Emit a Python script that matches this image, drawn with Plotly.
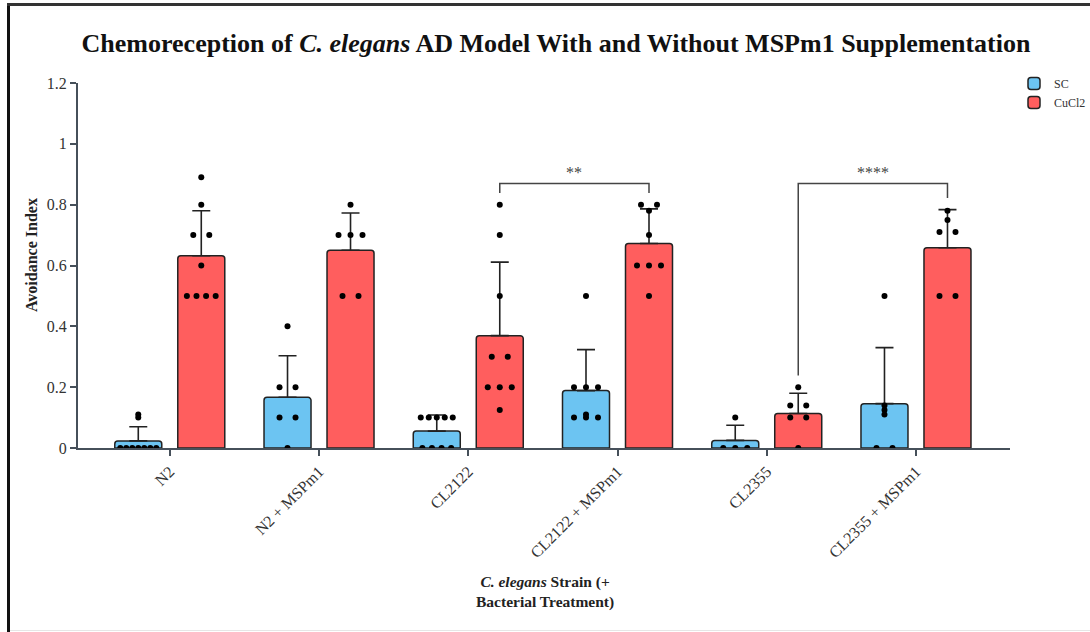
import numpy as np
import plotly.graph_objects as go

# ---------------- data ----------------
categories = ["N2", "N2 + MSPm1", "CL2122", "CL2122 + MSPm1", "CL2355", "CL2355 + MSPm1"]
series_names = ["SC", "CuCl2"]
sc_values = [
    [0, 0, 0, 0, 0, 0, 0, 0.10, 0.11],
    [0.4, 0.2, 0.2, 0.1, 0.1, 0],
    [0.1, 0.1, 0.1, 0.1, 0.1, 0, 0, 0, 0],
    [0.5, 0.2, 0.2, 0.2, 0.11, 0.1, 0.1, 0.1],
    [0.1, 0, 0, 0],
    [0.5, 0.14, 0.125, 0.11, 0, 0],
]
cucl2_values = [
    [0.89, 0.8, 0.7, 0.7, 0.6, 0.5, 0.5, 0.5, 0.5],
    [0.8, 0.7, 0.7, 0.7, 0.5, 0.5],
    [0.8, 0.7, 0.5, 0.3, 0.3, 0.2, 0.2, 0.2, 0.125],
    [0.8, 0.8, 0.78, 0.7, 0.6, 0.6, 0.6, 0.5],
    [0.2, 0.14, 0.14, 0.1, 0.1, 0],
    [0.78, 0.75, 0.71, 0.71, 0.5, 0.5],
]
# significance comparisons between CuCl2 bars (group index a, group index b, label)
comparisons = [(2, 3, "**"), (4, 5, "****")]
y_tick_vals = [0, 0.2, 0.4, 0.6, 0.8, 1.0, 1.2]
y_tick_text = ["0", "0.2", "0.4", "0.6", "0.8", "1", "1.2"]

# ---------------- style ----------------
W, H = 1090, 632
ML, MR, MT, MB = 78, 80, 83, 184
PW, PH = W - ML - MR, H - MT - MB
X_RANGE = [-0.615, 5.63]
PX_PER_CAT = PW / (X_RANGE[1] - X_RANGE[0])
BAR_W = 47 / PX_PER_CAT
BAR_OFF = 31.5 / PX_PER_CAT
COLORS = ["#6CC4F2", "#FF5E5E"]
FONT = "Liberation Serif"
AXIS_COL = "#46505a"
BRACKET_Y = 0.87


def px_x(p):
    return (p - ML) / PW


def px_y(p):
    return (H - MB - p) / PH


def swarm_offsets(vals):
    vals = np.asarray(vals, dtype=float)
    keys = np.round(vals, 3)
    out = np.zeros(len(vals))
    for k in np.unique(keys):
        idx = np.where(keys == k)[0]
        n = len(idx)
        step = 48.0 / (n + 1) / PX_PER_CAT
        out[idx] = (np.arange(n) - (n - 1) / 2) * step
    return out


fig = go.Figure()
all_series = [sc_values, cucl2_values]
tops = {}
for s, (name, vals, col) in enumerate(zip(series_names, all_series, COLORS)):
    off = -BAR_OFF if s == 0 else BAR_OFF
    means = [float(np.mean(v)) for v in vals]
    sds = [float(np.std(v, ddof=1)) for v in vals]
    xs = [i + off for i in range(len(categories))]
    for i, v in enumerate(vals):
        tops[(s, i)] = max(max(v), means[i] + sds[i])
    fig.add_trace(go.Bar(
        x=xs, y=means, width=BAR_W, name=name,
        marker=dict(color=col, line=dict(color="#222222", width=1.5), cornerradius=3),
        error_y=dict(type="data", array=sds, arrayminus=[0] * len(sds), symmetric=False,
                     color="#222222", thickness=1.6, width=9),
    ))

for s, vals in enumerate(all_series):
    off = -BAR_OFF if s == 0 else BAR_OFF
    px, py = [], []
    for i, v in enumerate(vals):
        o = swarm_offsets(v)
        px.extend(list(i + off + o))
        py.extend(v)
    fig.add_trace(go.Scatter(x=px, y=py, mode="markers", showlegend=False, hoverinfo="skip",
                             marker=dict(color="black", size=6, line=dict(width=0))))

# significance brackets
for a, b, lab in comparisons:
    xa, xb = a + BAR_OFF, b + BAR_OFF
    ya, yb = tops[(1, a)] + 0.038, tops[(1, b)] + 0.038
    fig.add_shape(type="path", xref="x", yref="y",
                  path=f"M {xa},{ya} L {xa},{BRACKET_Y} L {xb},{BRACKET_Y} L {xb},{yb}",
                  line=dict(color="#444444", width=1.5))
    fig.add_annotation(x=(xa + xb) / 2, y=BRACKET_Y + 0.035, xref="x", yref="y", text=lab,
                       showarrow=False, font=dict(family=FONT, size=16, color="#444444"))

# frame lines
fig.add_shape(type="line", xref="paper", yref="paper", x0=px_x(8.5), x1=px_x(8.5),
              y0=px_y(3), y1=px_y(640), line=dict(color="#111111", width=3))
fig.add_shape(type="line", xref="paper", yref="paper", x0=px_x(7), x1=px_x(1095),
              y0=px_y(4.5), y1=px_y(4.5), line=dict(color="#333333", width=3))
fig.add_shape(type="line", xref="paper", yref="paper", x0=px_x(10), x1=px_x(1095),
              y0=px_y(630.5), y1=px_y(630.5), line=dict(color="#e6e6e6", width=1))

# axis titles
fig.add_annotation(xref="paper", yref="paper", x=px_x(545), y=px_y(592),
                   text="<b><i>C. elegans</i> Strain (+<br>Bacterial Treatment)</b>",
                   showarrow=False, font=dict(family=FONT, size=15.5, color="#222222"),
                   xanchor="center", yanchor="middle")
fig.add_annotation(xref="paper", yref="paper", x=px_x(32), y=px_y(255),
                   text="<b>Avoidance Index</b>", textangle=-90,
                   showarrow=False, font=dict(family=FONT, size=16, color="#222222"),
                   xanchor="center", yanchor="middle")

fig.update_layout(
    width=W, height=H,
    margin=dict(l=ML, r=MR, t=MT, b=MB, pad=0, autoexpand=False),
    paper_bgcolor="white", plot_bgcolor="white",
    barmode="overlay",
    font=dict(family=FONT, color="#222222"),
    title=dict(text="<b>Chemoreception of <i>C. elegans</i> AD Model With and Without MSPm1 Supplementation</b>",
               x=556 / W, xanchor="center", xref="container",
               y=1 - 43 / H, yanchor="middle", yref="container",
               font=dict(family=FONT, size=26, color="#111111")),
    legend=dict(x=px_x(1014), y=px_y(69), xanchor="left", yanchor="top",
                font=dict(family=FONT, size=12, color="#333333"),
                itemwidth=30, bgcolor="rgba(0,0,0,0)", tracegroupgap=0),
    showlegend=True,
)
fig.update_xaxes(range=X_RANGE, tickmode="array", tickvals=list(range(len(categories))),
                 ticktext=categories, tickangle=-45, ticks="outside", ticklen=6,
                 tickwidth=1.5, tickcolor=AXIS_COL, showline=True, linecolor=AXIS_COL,
                 linewidth=2, showgrid=False, zeroline=False, automargin=False,
                 tickfont=dict(family=FONT, size=16, color="#333333"))
fig.update_yaxes(range=[0, 1.2], tickmode="array", tickvals=y_tick_vals, ticktext=y_tick_text,
                 ticks="outside", ticklen=6, tickwidth=1.5, tickcolor=AXIS_COL,
                 showline=True, linecolor=AXIS_COL, linewidth=2, showgrid=False,
                 zeroline=False, automargin=False,
                 tickfont=dict(family=FONT, size=16, color="#333333"))

fig.write_html("out.html", config={"displayModeBar": False},
               post_script="document.body.style.margin='0';")
